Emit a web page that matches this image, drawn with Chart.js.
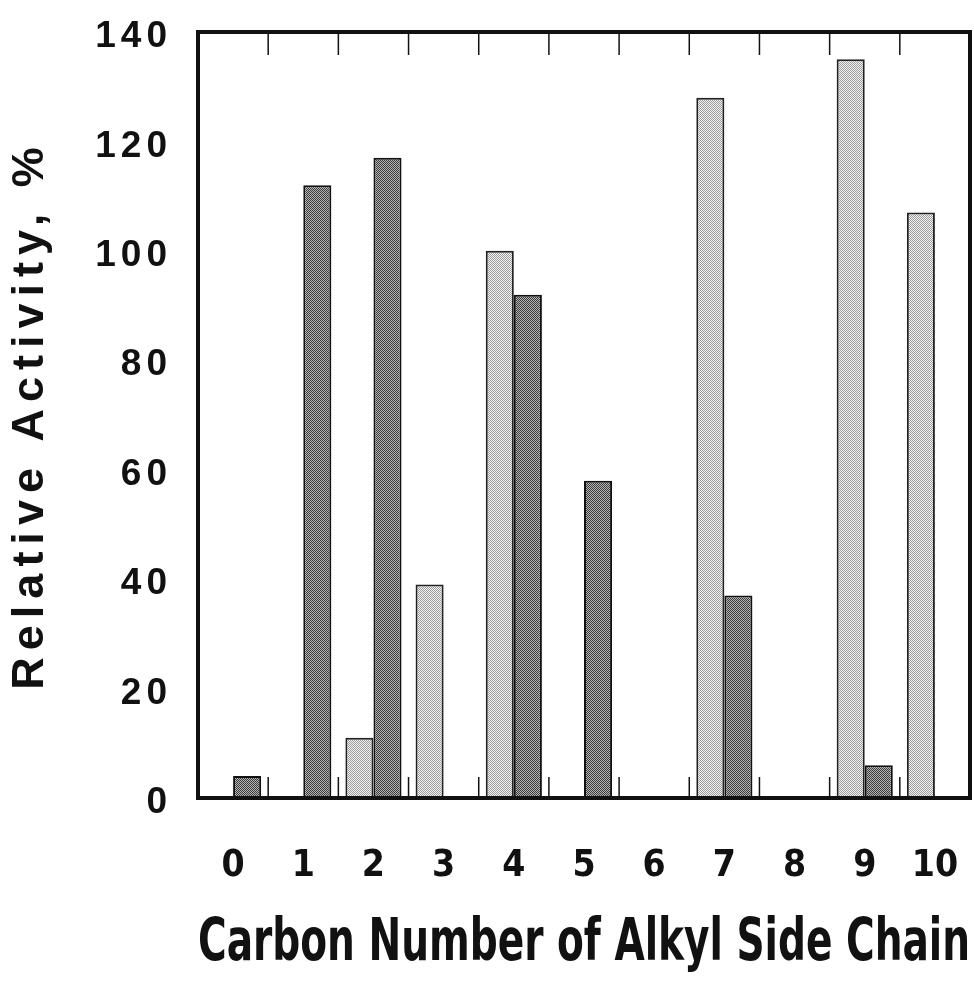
<!DOCTYPE html>
<html>
<head>
<meta charset="utf-8">
<script src="https://cdn.jsdelivr.net/npm/chart.js@4.4.1/dist/chart.umd.min.js"></script>
<style>
  html, body { margin: 0; padding: 0; background: #fff; }
  #wrap { width: 974px; height: 984px; }
</style>
</head>
<body>
<div id="wrap"><canvas id="chart" width="974" height="984"></canvas></div>
<script>
// carbon number of the alkyl side chain
const categories = ["0", "1", "2", "3", "4", "5", "6", "7", "8", "9", "10"];
// relative activity, % (null = no bar)
const lightSeries = [null, null, 11, 39, 100, null, null, 128, null, 135, 107];
const darkSeries = [4, 112, 117, null, 92, 58, null, 37, null, 6, null];
const yTicks = [0, 20, 40, 60, 80, 100, 120, 140];

const narrow = "'Liberation Sans Narrow', 'DejaVu Sans Condensed', 'Liberation Sans', sans-serif";
const wide = "'Liberation Sans', Arial, sans-serif";

// small dither tiles like the halftone fills in the figure
function makePattern(a, b) {
  const c = document.createElement("canvas");
  c.width = 2;
  c.height = 2;
  const g = c.getContext("2d");
  g.fillStyle = a;
  g.fillRect(0, 0, 2, 2);
  g.fillStyle = b;
  g.fillRect(0, 0, 1, 1);
  g.fillRect(1, 1, 1, 1);
  return g.createPattern(c, "repeat");
}
const lightFill = makePattern("#f2f2f2", "#9c9c9c");
const darkFill = makePattern("#b4b4b4", "#3c3c3c");

// wrap a scale draw step so its text gets wider tracking
function spaced(scale, name, spacing) {
  const orig = scale[name];
  scale[name] = function (...args) {
    const ctx = this.ctx;
    const prev = ctx.letterSpacing;
    ctx.letterSpacing = spacing;
    orig.apply(this, args);
    ctx.letterSpacing = prev;
  };
}

// thick frame + short inward ticks between the categories
const framePlugin = {
  id: "frame",
  afterDatasetsDraw(chart) {
    const { ctx, chartArea } = chart;
    const x = chart.scales.x;
    ctx.save();
    ctx.strokeStyle = "#111";
    ctx.lineWidth = 1.5;
    for (let i = 0; i < categories.length - 1; i++) {
      const px = (x.getPixelForValue(i) + x.getPixelForValue(i + 1)) / 2;
      ctx.beginPath();
      ctx.moveTo(px, chartArea.top);
      ctx.lineTo(px, chartArea.top + 23);
      ctx.moveTo(px, chartArea.bottom);
      ctx.lineTo(px, chartArea.bottom - 21);
      ctx.stroke();
    }
    ctx.lineWidth = 4;
    ctx.strokeRect(chartArea.left, chartArea.top, chartArea.right - chartArea.left, chartArea.bottom - chartArea.top);
    ctx.restore();
  }
};

function noPad(scale) {
  scale.paddingTop = 0;
  scale.paddingBottom = 0;
  scale.paddingLeft = 0;
  scale.paddingRight = 0;
}

new Chart(document.getElementById("chart"), {
  type: "bar",
  data: {
    labels: categories,
    datasets: [
      {
        label: "light",
        data: lightSeries,
        backgroundColor: lightFill,
        borderColor: "#222",
        borderWidth: 2,
        borderSkipped: false,
        categoryPercentage: 0.8,
        barPercentage: 1.0
      },
      {
        label: "dark",
        data: darkSeries,
        backgroundColor: darkFill,
        borderColor: "#111",
        borderWidth: 2,
        borderSkipped: false,
        categoryPercentage: 0.8,
        barPercentage: 1.0
      }
    ]
  },
  options: {
    responsive: false,
    animation: false,
    devicePixelRatio: 1,
    layout: { padding: { top: 32, right: 4, left: 0, bottom: 0 } },
    plugins: {
      legend: { display: false },
      tooltip: { enabled: false }
    },
    scales: {
      x: {
        grid: { display: false, drawTicks: false },
        border: { display: false },
        ticks: {
          color: "#111",
          padding: 46,
          font: { family: narrow, size: 37, weight: "bold" }
        },
        title: {
          display: true,
          text: "Carbon Number of Alkyl Side Chain",
          color: "#111",
          padding: { top: 0, bottom: 4 },
          font: { family: narrow, size: 58, weight: "bold" }
        },
        afterFit(scale) {
          scale.height = 186;
          noPad(scale);
        }
      },
      y: {
        min: 0,
        max: 140,
        afterBuildTicks(scale) {
          scale.ticks = yTicks.map(v => ({ value: v }));
        },
        grid: { display: false, drawTicks: false },
        border: { display: false },
        ticks: {
          color: "#111",
          padding: 26,
          labelOffset: 5,
          font: { family: wide, size: 37, weight: "bold" }
        },
        title: {
          display: true,
          text: "Relative Activity, %",
          color: "#111",
          padding: { top: 4, bottom: 0 },
          font: { family: wide, size: 45, weight: "bold" }
        },
        afterFit(scale) {
          scale.width = 198;
          noPad(scale);
          if (!scale._spaced) {
            spaced(scale, "drawTitle", "7px");
            spaced(scale, "drawLabels", "5px");
            scale._spaced = true;
          }
        }
      }
    }
  },
  plugins: [framePlugin]
});
</script>
</body>
</html>
